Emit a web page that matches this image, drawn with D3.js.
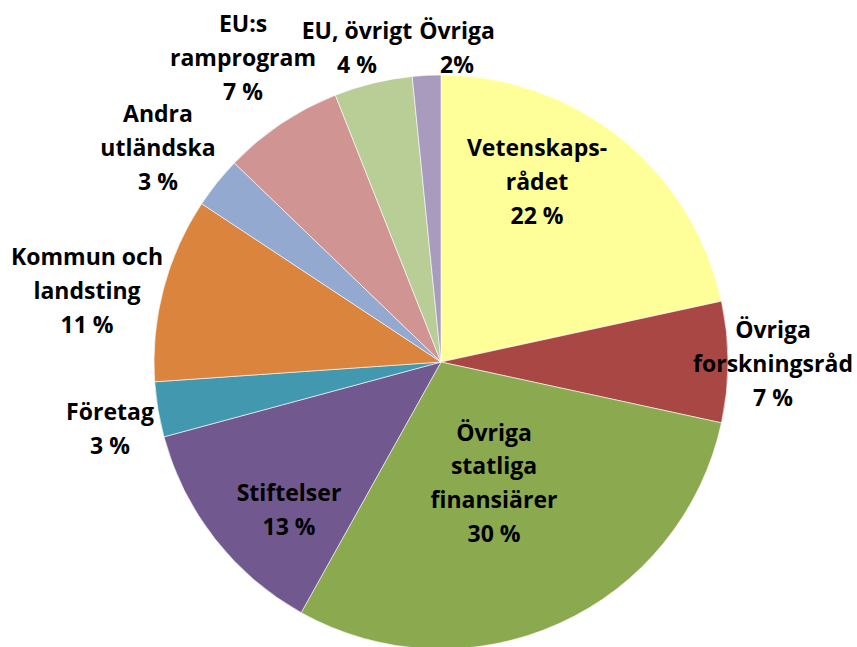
<!DOCTYPE html>
<html>
<head>
<meta charset="utf-8">
<script src="https://cdn.jsdelivr.net/npm/d3@7"></script>
<style>
  body { margin: 0; background: #fff; }
  text { font-family: "Open Sans", Lato, sans-serif; font-weight: bold; font-size: 23px; fill: #000; }
</style>
</head>
<body>
<div id="root"></div>
<script>
// categories, clockwise from 12 o'clock
var categories = ["Vetenskapsrådet", "Övriga forskningsråd", "Övriga statliga finansiärer", "Stiftelser",
    "Företag", "Kommun och landsting", "Andra utländska", "EU:s ramprogram", "EU, övrigt", "Övriga"];
// shares in percent
var shares = [21.6, 6.8, 29.7, 12.7, 3.1, 10.4, 2.9, 6.8, 4.4, 1.6];
// label lines as printed
var labelLines = [
    ["Vetenskaps-", "rådet", "22 %"],
    ["Övriga", "forskningsråd", "7 %"],
    ["Övriga", "statliga", "finansiärer", "30 %"],
    ["Stiftelser", "13 %"],
    ["Företag", "3 %"],
    ["Kommun och", "landsting", "11 %"],
    ["Andra", "utländska", "3 %"],
    ["EU:s", "ramprogram", "7 %"],
    ["EU, övrigt", "4 %"],
    ["Övriga", "2%"]
];
var colors = ["#FFFF99", "#A94744", "#8BA94E", "#71588F", "#4298AF",
    "#DB843D", "#93A9D0", "#D09493", "#B9CD96", "#A99BBD"];

var width = 857, height = 647;
var cx = 441, cy = 362, radius = 287;
var lineH = 33.7;

// label block centres, relative to the pie centre
var labelOffset = [
    [96, -180], [332, 2], [53, 121], [-152, 148], [-331, 67],
    [-354, -71], [-283, -214], [-198, -304], [-84, -314], [16, -314]
];

var svg = d3.select("#root")
    .append("svg")
    .attr("width", width)
    .attr("height", height);

var graph = svg.append("g")
    .attr("transform", "translate(" + cx + "," + cy + ")");

var pie = d3.pie().sort(null).value(function (d) { return d; });
var arc = d3.arc().innerRadius(0).outerRadius(radius);

graph.selectAll("path")
    .data(pie(shares))
    .enter()
    .append("path")
    .attr("d", arc)
    .attr("fill", function (d, i) { return colors[i]; })
    .attr("stroke", "#fff")
    .attr("stroke-width", 0.6);

var labels = graph.selectAll("text.label")
    .data(labelLines)
    .enter()
    .append("text")
    .attr("class", "label")
    .attr("text-anchor", "middle")
    .attr("transform", function (d, i) {
        return "translate(" + labelOffset[i][0] + "," + labelOffset[i][1] + ")";
    });

labels.each(function (lines) {
    var t = d3.select(this);
    var top = -(lines.length - 1) * lineH / 2;
    lines.forEach(function (l, j) {
        t.append("tspan")
            .attr("x", 0)
            .attr("y", top + j * lineH)
            .attr("dy", "0.35em")
            .text(l);
    });
});
</script>
</body>
</html>
